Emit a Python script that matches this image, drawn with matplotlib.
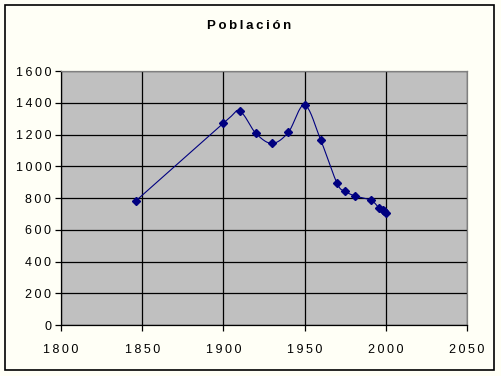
import numpy as np
import matplotlib
matplotlib.use("Agg")
import matplotlib.pyplot as plt
from matplotlib.patches import Rectangle

years = [1846, 1900, 1910, 1920, 1930, 1940, 1950, 1960, 1970, 1975, 1981, 1991, 1996, 1998, 1999, 2000]
population = [781, 1270, 1345, 1207, 1144, 1214, 1386, 1163, 892, 842, 813, 785, 735, 724, 716, 707]
x_ticks = [1800, 1850, 1900, 1950, 2000, 2050]
y_ticks = [0, 200, 400, 600, 800, 1000, 1200, 1400, 1600]
title = "Población"

def spaced(s):
    return "\u2009".join(list(s))

def catmull_rom(xs, ys, n=20):
    P = np.column_stack([xs, ys]).astype(float)
    P = np.vstack([P[0], P, P[-1]])
    out = []
    for i in range(1, len(P) - 2):
        p0, p1, p2, p3 = P[i - 1], P[i], P[i + 1], P[i + 2]
        c1 = p1 + (p2 - p0) / 6.0
        c2 = p2 - (p3 - p1) / 6.0
        t = np.linspace(0, 1, n)[:, None]
        seg = ((1 - t) ** 3) * p1 + 3 * ((1 - t) ** 2) * t * c1 + 3 * (1 - t) * t ** 2 * c2 + t ** 3 * p2
        out.append(seg if i == 1 else seg[1:])
    out = np.vstack(out)
    return out[:, 0], out[:, 1]

plt.rcParams['font.family'] = ['Liberation Sans', 'DejaVu Sans']

W, H = 501, 376
fig = plt.figure(figsize=(W / 100, H / 100), dpi=100)
fig.patch.set_facecolor('#FFFFF6')
fig.patches.append(Rectangle((5 / W, 1 - 370 / H), (494 - 5) / W, (370 - 5) / H,
                             transform=fig.transFigure, fill=False, edgecolor='black', linewidth=1.2))

ax = fig.add_axes([61 / W, 1 - 325 / H, (467 - 61) / W, (325 - 71) / H])
ax.set_facecolor('#C0C0C0')
ax.set_xlim(1800, 2050)
ax.set_ylim(0, 1600)
ax.set_xticks(x_ticks)
ax.set_yticks(y_ticks)
ax.set_xticklabels([spaced(str(v)) for v in x_ticks], fontsize=9)
ax.set_yticklabels([spaced(str(v)) for v in y_ticks], fontsize=9)
ax.grid(True, color='black', linewidth=0.9)
ax.set_axisbelow(True)
ax.tick_params(direction='out', length=4, width=0.9, color='black', pad=3)
ax.tick_params(axis='x', pad=10)
for s in ['top', 'right']:
    ax.spines[s].set_color('#808080')
    ax.spines[s].set_linewidth(0.9)
for s in ['left', 'bottom']:
    ax.spines[s].set_color('black')
    ax.spines[s].set_linewidth(0.9)

sx, sy = catmull_rom(years, population)
ax.plot(sx, sy, color='#000080', linewidth=0.8)
ax.plot(years, population, linestyle='none', marker='D', markersize=4.5, color='#000080')

fig.text(249 / W, 1 - 26 / H, spaced(title), ha='center', va='center', fontsize=9.5, fontweight='bold')

fig.savefig('out.png', dpi=100, facecolor=fig.get_facecolor())
